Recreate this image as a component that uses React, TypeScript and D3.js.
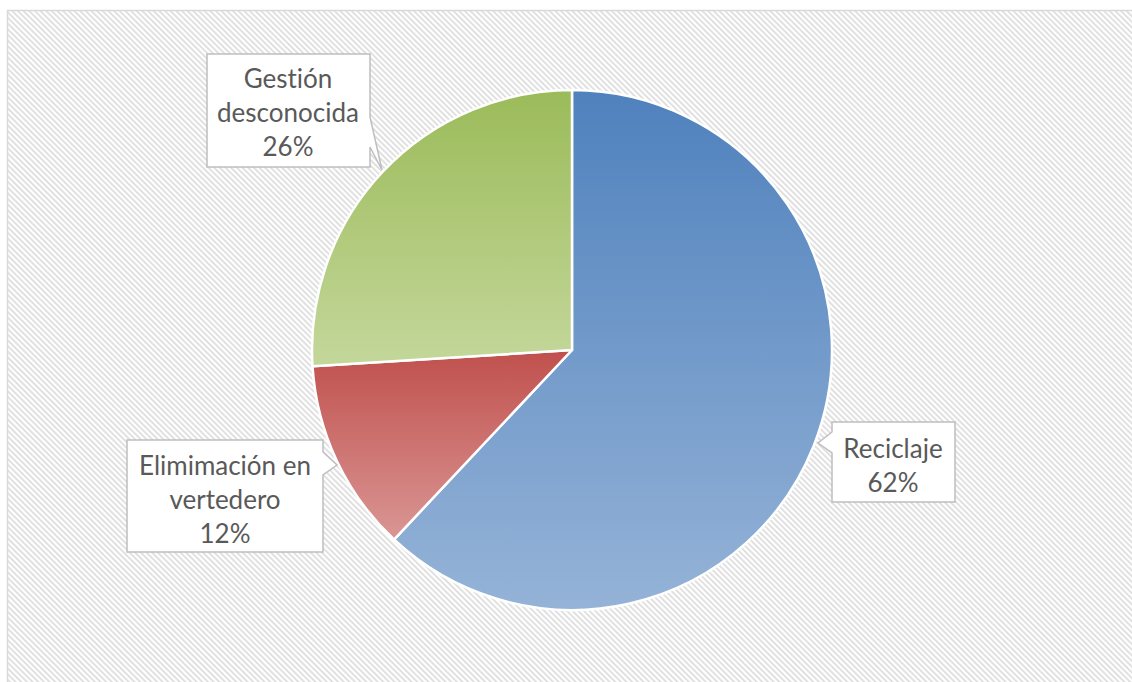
import React from "react";
import * as d3 from "d3";

const categories = ["Reciclaje", "Elimimación en vertedero", "Gestión desconocida"];
const values = [62, 12, 26];
const percentLabels = ["62%", "12%", "26%"];
const labelLines = [["Reciclaje"], ["Elimimación en", "vertedero"], ["Gestión", "desconocida"]];

const W = 1132;
const H = 682;
const CX = 572;
const CY = 350;
const R = 260;

const gradients = [
  { top: "#4f81bd", bottom: "#95b3d7" },
  { top: "#c0504d", bottom: "#da9694" },
  { top: "#9bbb59", bottom: "#c4d79b" },
];

// callout layout: box + wedge on a side
const callouts = [
  { x0: 832, y0: 422, x1: 955, y1: 502, side: "left", w0: 432, w1: 453, tip: [818, 443], cx: 893, firstY: 448 },
  { x0: 127, y0: 440, x1: 323, y1: 552, side: "right", w0: 452, w1: 475, tip: [337, 465], cx: 225, firstY: 465 },
  { x0: 207, y0: 54, x1: 370, y1: 167, side: "right", w0: 117, w1: 147, tip: [382, 170], cx: 288, firstY: 78 },
];

function calloutPath(c: any) {
  if (c.side === "right") {
    return `M${c.x0},${c.y0}H${c.x1}V${c.w0}L${c.tip[0]},${c.tip[1]}L${c.x1},${c.w1}V${c.y1}H${c.x0}Z`;
  }
  return `M${c.x0},${c.y0}H${c.x1}V${c.y1}H${c.x0}V${c.w1}L${c.tip[0]},${c.tip[1]}L${c.x0},${c.w0}Z`;
}

export default function App() {
  const pie = d3.pie<number>().sort(null).startAngle(0).endAngle(2 * Math.PI)(values);
  const arc = d3.arc<d3.PieArcDatum<number>>().innerRadius(0).outerRadius(R);
  const lineH = 34;
  return (
    <svg width={W} height={H} style={{ position: "absolute", left: 0, top: 0 }} xmlns="http://www.w3.org/2000/svg">
      <defs>
        <pattern id="hatch" width="4" height="4" patternUnits="userSpaceOnUse" patternTransform="rotate(-45)">
          <rect width="4" height="4" fill="#ffffff" />
          <rect x="0" y="0" width="1.7" height="4" fill="#dcdcdc" />
        </pattern>
        {gradients.map((g, i) => (
          <linearGradient key={i} id={`g${i}`} x1="0" y1="0" x2="0" y2="1">
            <stop offset="0" stopColor={g.top} />
            <stop offset="1" stopColor={g.bottom} />
          </linearGradient>
        ))}
      </defs>
      <rect x={0} y={0} width={W} height={H} fill="#ffffff" />
      <rect x={7.5} y={10.5} width={W + 10} height={H + 10} fill="url(#hatch)" stroke="#d9d9d9" strokeWidth={1.5} />
      <g transform={`translate(${CX},${CY})`}>
        {pie.map((d, i) => (
          <path key={categories[i]} d={arc(d) || ""} fill={`url(#g${i})`} stroke="#ffffff" strokeWidth={2.5} strokeLinejoin="round" />
        ))}
      </g>
      {callouts.map((c, i) => {
        const lines = [...labelLines[i], percentLabels[i]];
        return (
          <g key={i}>
            <path d={calloutPath(c)} fill="#ffffff" stroke="#bfbfbf" strokeWidth={1.5} />
            {lines.map((t, j) => (
              <text
                key={j}
                x={c.cx}
                y={c.firstY + j * lineH}
                textAnchor="middle"
                dominantBaseline="central"
                fontFamily="Lato, 'Open Sans', sans-serif"
                fontSize={26}
                fill="#595959"
                style={{ fontVariantLigatures: "none" }}
              >
                {t}
              </text>
            ))}
          </g>
        );
      })}
    </svg>
  );
}
